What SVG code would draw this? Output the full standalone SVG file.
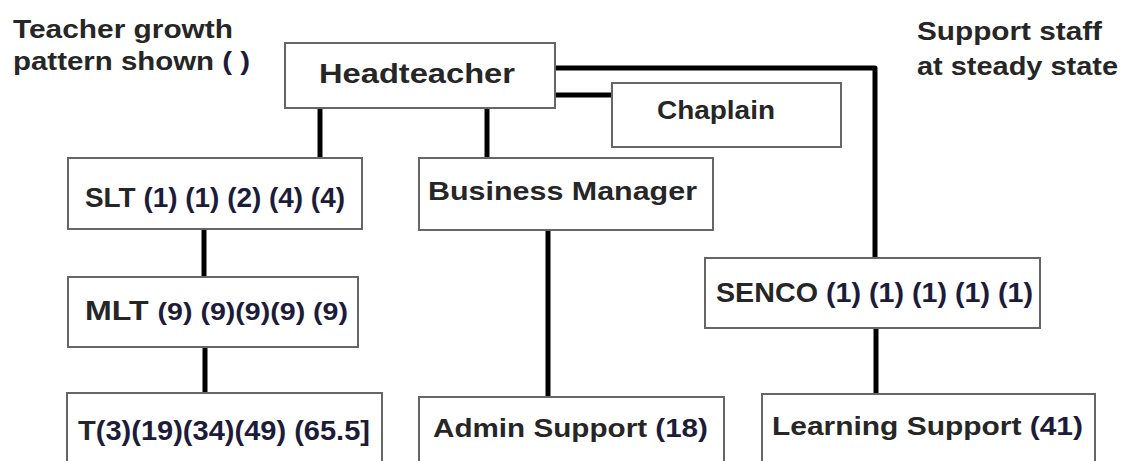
<svg xmlns="http://www.w3.org/2000/svg" width="1123" height="461" viewBox="0 0 1123 461">
<style>
.box{fill:#fff;stroke:#666;stroke-width:2}
.t{font-family:"Liberation Sans",Arial,sans-serif;font-weight:bold;fill:#262626}
.n{fill:#1c1c3a}
.c{fill:none;stroke:#000;stroke-width:5;stroke-linejoin:round}
</style>
<rect width="1123" height="461" fill="#fff"/>
<g id="connectors">
<path class="c" d="M555,68 H875 V258"/>
<path class="c" d="M555,95 H612" stroke-width="4"/>
<path class="c" d="M320,108 V158"/>
<path class="c" d="M487,108 V158"/>
<path class="c" d="M204,229 V277"/>
<path class="c" d="M205,347 V393"/>
<path class="c" d="M548,230 V397"/>
<path class="c" d="M876,328 V394"/>
</g>
<g id="label-teacher">
<text class="t" x="13" y="38" font-size="26" textLength="220" lengthAdjust="spacingAndGlyphs">Teacher growth</text>
<text class="t" x="13" y="70" font-size="26" textLength="237" lengthAdjust="spacingAndGlyphs">pattern shown <tspan class="n">( )</tspan></text>
</g>
<g id="label-support">
<text class="t" x="917" y="40" font-size="25" textLength="185" lengthAdjust="spacingAndGlyphs">Support staff</text>
<text class="t" x="917" y="75" font-size="25" textLength="201" lengthAdjust="spacingAndGlyphs">at steady state</text>
</g>
<g id="headteacher">
<rect class="box" x="285" y="43" width="270" height="65"/>
<text class="t" x="319" y="83" font-size="27" textLength="196" lengthAdjust="spacingAndGlyphs">Headteacher</text>
</g>
<g id="chaplain">
<rect class="box" x="612" y="83" width="229" height="64"/>
<text class="t" x="657" y="119" font-size="25" textLength="118" lengthAdjust="spacingAndGlyphs">Chaplain</text>
</g>
<g id="slt">
<rect class="box" x="68" y="158" width="294" height="71"/>
<text class="t" x="85" y="207" font-size="28" textLength="260" lengthAdjust="spacingAndGlyphs">SLT <tspan class="n">(1) (1) (2) (4) (4)</tspan></text>
</g>
<g id="business-manager">
<rect class="box" x="419" y="158" width="294" height="72"/>
<text class="t" x="428" y="200" font-size="26" textLength="269" lengthAdjust="spacingAndGlyphs">Business Manager</text>
</g>
<g id="mlt">
<rect class="box" x="68" y="277" width="290" height="70"/>
<text class="t" x="85" y="320" font-size="27" textLength="263" lengthAdjust="spacingAndGlyphs">MLT <tspan class="n" font-size="24">(9) (9)(9)(9) (9)</tspan></text>
</g>
<g id="senco">
<rect class="box" x="705" y="258" width="335" height="70"/>
<text class="t" x="716" y="302" font-size="27" textLength="317" lengthAdjust="spacingAndGlyphs">SENCO <tspan class="n">(1) (1) (1) (1) (1)</tspan></text>
</g>
<g id="teachers">
<rect class="box" x="67" y="393" width="315" height="80"/>
<text class="t" x="78" y="440" font-size="27" textLength="292" lengthAdjust="spacingAndGlyphs">T<tspan class="n">(3)(19)(34)(49) (65.5]</tspan></text>
</g>
<g id="admin-support">
<rect class="box" x="419" y="397" width="305" height="80"/>
<text class="t" x="433" y="437" font-size="26" textLength="275" lengthAdjust="spacingAndGlyphs">Admin Support <tspan class="n">(18)</tspan></text>
</g>
<g id="learning-support">
<rect class="box" x="762" y="394" width="333" height="80"/>
<text class="t" x="772" y="435" font-size="26" textLength="311" lengthAdjust="spacingAndGlyphs">Learning Support <tspan class="n">(41)</tspan></text>
</g>
</svg>
